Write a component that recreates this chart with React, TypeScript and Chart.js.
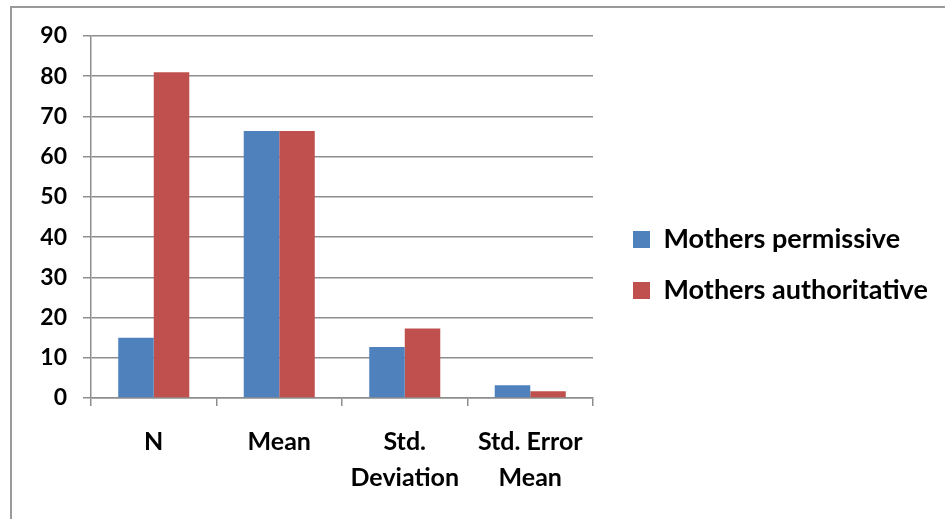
import React, { useEffect, useRef } from "react";
import { Chart, registerables } from "chart.js";

Chart.register(...registerables);

const categories: (string | string[])[] = ["N", "Mean", ["Std.", "Deviation"], ["Std. Error", "Mean"]];
const seriesNames = ["Mothers permissive", "Mothers authoritative"];
const permissive = [15, 66.4, 12.7, 3.2];
const authoritative = [81, 66.4, 17.3, 1.7];
const yMin = 0;
const yMax = 90;
const yStep = 10;

const BLUE = "#4F81BD";
const RED = "#C0504D";
const GRID = "#8e8e8e";
const FONT = "Lato, 'Open Sans', 'Liberation Sans', sans-serif";
const LEGEND_SIZE = 27;
const LEGEND_PAD = 24;
const BOX = 17;

export default function App() {
  const ref = useRef<HTMLCanvasElement | null>(null);

  useEffect(() => {
    if (!ref.current) return;

    // measure widest legend text to place legend box
    const mctx = document.createElement("canvas").getContext("2d")!;
    mctx.font = `bold ${LEGEND_SIZE}px ${FONT}`;
    const tw = Math.max(...seriesNames.map((s) => mctx.measureText(s).width));
    const legendLeft = 611;
    const legendWidth = LEGEND_PAD + BOX + LEGEND_SIZE / 2 + tw;
    const padRight = Math.max(0, 945 - legendLeft - legendWidth);

    const widenLegend = {
      id: "widenLegend",
      beforeLayout(chart: any) {
        const lg = chart.legend;
        if (lg && !lg.__widened) {
          const orig = lg.update.bind(lg);
          lg.update = (w: number, h: number, m: any) => orig(Math.max(w, legendWidth + 2), h, m);
          lg.__widened = true;
        }
      },
    };

    const chart = new Chart(ref.current, {
      type: "bar",
      data: {
        labels: categories,
        datasets: [
          {
            label: seriesNames[0],
            data: permissive,
            backgroundColor: BLUE,
            borderWidth: 0,
            categoryPercentage: 0.566,
            barPercentage: 1,
            yAxisID: "y",
          },
          {
            label: seriesNames[1],
            data: authoritative,
            backgroundColor: RED,
            borderWidth: 0,
            categoryPercentage: 0.566,
            barPercentage: 1,
            yAxisID: "y",
          },
        ],
      },
      plugins: [widenLegend],
      options: {
        responsive: false,
        animation: false,
        layout: { padding: { top: 36, bottom: 25, left: 0, right: padRight } },
        plugins: {
          tooltip: { enabled: false },
          legend: {
            position: "right",
            align: "center",
            labels: {
              boxWidth: BOX,
              boxHeight: BOX,
              padding: LEGEND_PAD,
              color: "#000",
              font: { family: FONT, size: LEGEND_SIZE, weight: "bold" },
            },
          },
        },
        scales: {
          x: {
            grid: {
              offset: true,
              drawOnChartArea: false,
              drawTicks: true,
              tickLength: 8,
              color: GRID,
              lineWidth: 1.5,
            },
            border: { display: true, color: GRID, width: 1.5 },
            ticks: {
              color: "#000",
              padding: 18,
              maxRotation: 0,
              autoSkip: false,
              font: { family: FONT, size: 25, weight: "bold", lineHeight: 1.44 },
            },
            afterFit: (s: any) => {
              s.height = 96;
            },
          },
          y: {
            min: yMin,
            max: yMax,
            ticks: {
              stepSize: yStep,
              color: "#000",
              padding: 16,
              font: { family: FONT, size: 23, weight: "bold" },
            },
            grid: {
              color: GRID,
              lineWidth: 1.5,
              drawTicks: true,
              tickLength: 8,
            },
            border: { display: true, color: GRID, width: 1.5 },
            afterFit: (s: any) => {
              s.width = 91;
            },
          },
          y2: {
            position: "right",
            display: true,
            grid: { display: false, drawTicks: false },
            border: { display: false },
            ticks: { display: false },
            afterFit: (s: any) => {
              s.width = 16;
            },
          },
        },
      },
    });
    return () => chart.destroy();
  }, []);

  return (
    <div style={{ position: "fixed", left: 0, top: 0, width: 945, height: 519, overflow: "hidden", background: "#fff" }}>
      <div
        style={{
          position: "absolute",
          left: 10,
          top: 6,
          width: 1000,
          height: 600,
          borderLeft: "2px solid #9a9a9a",
          borderTop: "2px solid #9a9a9a",
        }}
      />
      <canvas ref={ref} width={945} height={519} style={{ position: "absolute", left: 0, top: 0, width: 945, height: 519 }} />
    </div>
  );
}
